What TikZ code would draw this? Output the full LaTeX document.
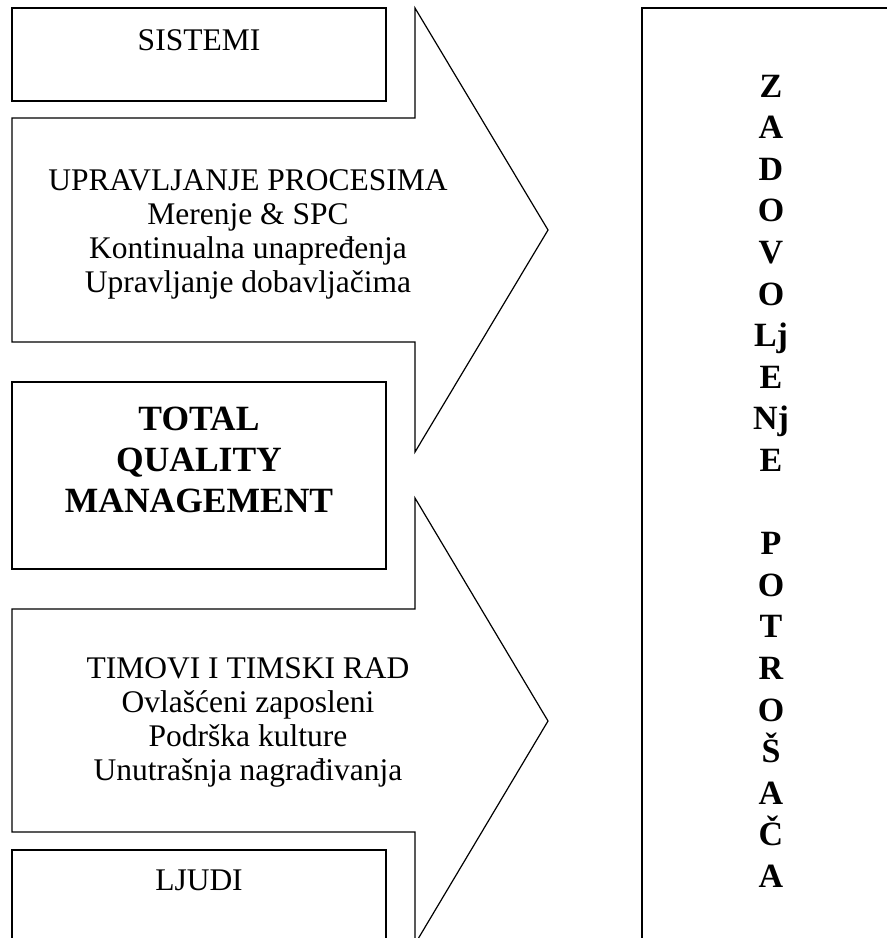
\documentclass[tikz,border=0pt]{standalone}
\usepackage{fontspec}
\setmainfont{Liberation Serif}
\begin{document}
\begin{tikzpicture}[x=1pt,y=-1pt,
  outline/.style={draw=black, line width=1.2pt, line join=miter},
  txt/.style={anchor=base, inner sep=0pt, font=\fontsize{31.5}{34}\selectfont},
  big/.style={anchor=base, inner sep=0pt, font=\fontsize{35.5}{41}\selectfont\bfseries},
  letter/.style={anchor=base, inner sep=0pt, font=\fontsize{34}{40}\selectfont\bfseries}]
\useasboundingbox (0,0) rectangle (887,938);
\clip (0,0) rectangle (887,938);
% boxes and arrows
\draw[outline] (12,8) rectangle (386,101);
\draw[outline] (12,118) -- (415,118) -- (415,8) -- (548,230) -- (415,452) -- (415,342) -- (12,342) -- cycle;
\draw[outline] (12,382) rectangle (386,569);
\draw[outline] (12,609) -- (415,609) -- (415,498) -- (548,721) -- (415,944) -- (415,832) -- (12,832) -- cycle;
\draw[outline] (12,850) rectangle (386,990);
\draw[outline] (642,8) rectangle (990,990);
% texts
\node[txt] (sis) at (199,50) {SISTEMI};
\node[txt] (up1) at (248,190) {UPRAVLJANJE PROCESIMA};
\node[txt] (up2) at (248,224) {Merenje \& SPC};
\node[txt] (up3) at (248,258) {Kontinualna unapređenja};
\node[txt] (up4) at (248,292) {Upravljanje dobavljačima};
\node[big] (tq1) at (199,430) {TOTAL};
\node[big] (tq2) at (199,471) {QUALITY};
\node[big] (tq3) at (199,512) {MANAGEMENT};
\node[txt] (lo1) at (248,678) {TIMOVI I TIMSKI RAD};
\node[txt] (lo2) at (248,712) {Ovlašćeni zaposleni};
\node[txt] (lo3) at (248,746) {Podrška kulture};
\node[txt] (lo4) at (248,780) {Unutrašnja nagrađivanja};
\node[txt] (lju) at (199,890) {LJUDI};
\foreach \t/\r in {Z/0,A/1,D/2,O/3,V/4,O/5,Lj/6,E/7,Nj/8,E/9,P/11,O/12,T/13,R/14,O/15,Š/16,A/17,Č/18,A/19}
  \node[letter] (c\r) at (771,97+41.6*\r) {\t};
\end{tikzpicture}
\end{document}
